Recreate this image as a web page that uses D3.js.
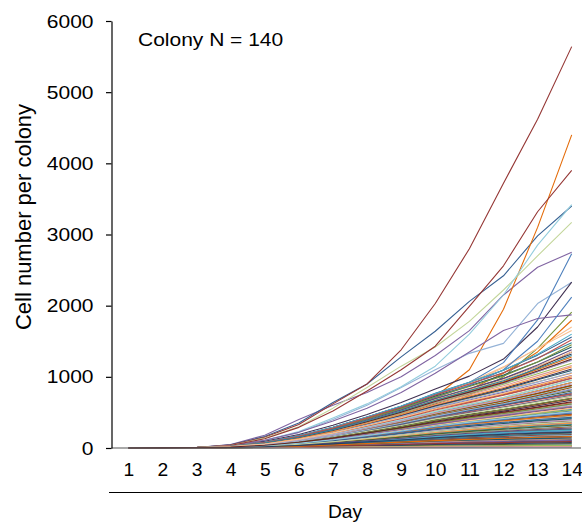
<!DOCTYPE html>
<html>
<head>
<meta charset="utf-8">
<script src="https://cdn.jsdelivr.net/npm/d3@7"></script>
<style>
  html, body { margin: 0; padding: 0; background: #fff; }
  svg { display: block; }
  text { font-family: "Liberation Sans", Arial, Helvetica, sans-serif; fill: #000; }
</style>
</head>
<body>
<svg id="chart" width="582" height="523"></svg>
<script>
// Days on the x axis
const days = [1,2,3,4,5,6,7,8,9,10,11,12,13,14];
const yTicks = [0,1000,2000,3000,4000,5000,6000];
const colonyCount = 140;

// Cell number per colony, one row per colony, one value per day
const colonies = [
  [1,2,5,22,65,133,232,348,476,635,762,908,1070,1240],
  [1,2,4,17,49,105,181,275,371,472,575,667,770,880],
  [1,2,4,12,34,70,119,181,245,310,375,425,492,560],
  [1,2,6,50,180,400,600,780,1000,1300,1650,2150,2540,2750],
  [1,2,3,11,29,59,101,152,210,270,319,356,390,420],
  [1,2,4,14,39,81,138,203,273,358,431,494,567,640],
  [1,2,6,45,160,350,640,900,1280,1640,2060,2420,2980,3400],
  [1,2,5,40,150,330,620,900,1380,2030,2800,3720,4620,5640],
  [1,2,4,19,58,120,200,300,420,560,740,1000,1400,1910],
  [1,2,5,20,57,119,203,312,420,553,650,748,856,980],
  [1,2,5,24,78,168,290,435,588,756,900,1058,1263,1480],
  [1,2,4,25,90,170,280,400,560,720,1100,1950,3100,4400],
  [1,2,5,30,110,220,400,600,850,1100,1330,1470,2030,2330],
  [1,2,4,16,44,92,160,239,322,419,500,575,653,720],
  [1,2,5,35,140,300,560,850,1150,1420,1780,2220,2700,3170],
  [1,2,3,8,21,42,72,109,147,189,225,253,278,300],
  [1,2,4,30,110,230,420,620,860,1150,1600,2150,2850,3420],
  [1,2,5,24,72,150,250,380,520,700,900,1130,1400,1700],
  [1,2,5,23,72,154,261,392,532,689,825,978,1145,1320],
  [1,2,4,19,62,133,232,348,476,621,763,920,1124,1350],
  [1,2,3,6,12,20,30,42,53,65,75,82,89,95],
  [1,2,4,26,96,190,320,470,640,830,1010,1250,1700,2330],
  [1,2,4,17,47,98,167,254,343,446,531,610,685,760],
  [1,2,3,7,17,34,55,81,108,135,158,177,195,210],
  [1,2,4,24,84,170,280,410,570,740,920,1200,1800,2730],
  [1,2,4,12,33,66,113,171,231,297,356,403,439,470],
  [1,2,3,6,13,24,38,54,70,86,100,110,121,130],
  [1,2,5,30,110,220,380,560,780,1050,1350,1650,1820,1870],
  [1,2,4,13,36,76,131,196,266,344,413,472,535,590],
  [1,2,5,20,60,126,218,326,448,581,700,817,931,1050],
  [1,2,3,10,23,48,81,122,165,213,253,288,317,340],
  [1,2,5,35,130,290,520,800,1100,1430,1990,2560,3320,3900],
  [1,2,3,5,9,14,20,28,34,41,45,48,51,55],
  [1,2,4,17,48,101,174,261,357,459,550,633,728,820],
  [1,2,3,8,20,39,65,97,130,165,194,219,241,260],
  [1,2,4,21,65,130,220,340,480,640,820,1050,1350,1795],
  [1,2,4,14,39,80,135,203,273,351,419,483,546,610],
  [1,2,5,22,65,137,235,355,483,628,750,874,1017,1160],
  [1,2,3,5,8,11,16,20,25,30,33,36,37,40],
  [1,2,4,13,34,69,116,174,235,300,356,403,455,500],
  [1,2,3,7,16,29,48,70,92,116,135,152,167,180],
  [1,2,5,26,78,160,265,395,540,720,920,1140,1400,1650],
  [1,2,4,18,52,109,189,284,385,500,600,690,803,920],
  [1,2,3,11,26,53,90,136,185,238,281,319,353,380],
  [1,2,3,6,12,21,33,48,63,78,90,101,111,120],
  [1,2,4,16,43,88,151,226,305,394,473,541,615,690],
  [1,2,5,24,75,161,276,413,560,729,875,1024,1209,1420],
  [1,2,3,8,21,42,71,107,146,186,220,248,276,300],
  [1,2,4,22,75,155,260,390,540,710,880,1100,1500,2120],
  [1,2,4,16,46,95,162,247,333,432,513,598,679,760],
  [1,2,2,4,5,8,12,15,17,19,21,22,24,25],
  [1,2,5,20,60,126,215,322,437,567,675,782,899,1020],
  [1,2,4,12,31,63,107,162,220,284,338,385,419,450],
  [1,2,4,14,40,84,145,218,294,381,456,523,601,680],
  [1,2,5,25,81,171,290,435,588,770,925,1093,1305,1560],
  [1,2,3,7,18,36,61,90,119,151,178,200,216,230],
  [1,2,4,17,49,104,177,268,364,473,569,656,760,870],
  [1,2,3,6,14,27,42,61,80,100,116,130,141,150],
  [1,2,4,13,35,73,125,189,255,328,390,443,492,540],
  [1,2,5,22,68,146,249,377,511,662,794,932,1102,1280],
  [1,2,3,5,9,15,23,32,41,49,55,60,65,70],
  [1,2,3,11,27,56,96,145,196,251,298,337,370,400],
  [1,2,4,18,55,115,197,297,403,520,619,713,835,960],
  [1,2,4,14,38,78,133,200,270,348,416,477,548,620],
  [1,2,3,10,22,43,74,112,150,192,228,258,285,310],
  [1,2,5,23,72,151,258,389,525,682,819,960,1145,1350],
  [1,2,3,6,12,21,32,45,57,70,80,89,97,105],
  [1,2,4,13,36,74,128,193,260,336,400,458,516,570],
  [1,2,4,17,47,98,168,255,346,448,538,621,712,800],
  [1,2,3,8,20,39,67,100,134,171,203,230,253,270],
  [1,2,5,20,61,129,220,334,455,591,706,822,958,1090],
  [1,2,4,12,31,64,110,167,225,290,345,393,439,480],
  [1,2,2,4,5,7,9,10,11,12,13,14,14,15],
  [1,2,4,14,39,80,136,206,279,359,429,495,567,640],
  [1,2,5,22,66,140,239,363,490,637,765,897,1043,1190],
  [1,2,3,10,25,50,86,129,175,224,265,301,334,360],
  [1,2,3,6,10,18,28,38,48,58,66,72,79,85],
  [1,2,4,18,52,109,187,283,382,494,594,690,805,920],
  [1,2,4,13,34,70,119,180,244,313,373,426,474,520],
  [1,2,3,7,16,31,51,74,98,124,146,164,179,190],
  [1,2,5,24,75,161,273,409,553,716,863,1012,1209,1450],
  [1,2,4,16,44,92,158,238,322,416,498,575,655,740],
  [1,2,3,10,23,46,78,117,158,203,240,274,305,330],
  [1,2,5,19,57,120,206,312,423,547,653,759,877,1000],
  [1,2,2,4,7,10,15,19,24,28,33,36,41,45],
  [1,2,4,13,36,76,129,196,265,340,406,466,528,590],
  [1,2,3,8,21,41,68,103,139,177,209,238,262,280],
  [1,2,5,22,68,143,244,368,498,648,778,914,1070,1230],
  [1,2,4,17,48,102,174,264,358,463,556,644,749,860],
  [1,2,3,12,30,62,104,158,213,274,325,370,412,440],
  [1,2,3,7,14,28,45,65,87,109,128,143,155,165],
  [1,2,4,16,42,87,148,223,302,390,466,537,617,700],
  [1,2,3,5,8,13,19,26,32,39,45,51,56,60],
  [1,2,5,20,62,132,225,339,462,599,718,837,970,1110],
  [1,2,3,11,27,57,99,148,200,257,304,345,381,410],
  [1,2,4,17,49,105,180,273,370,478,573,664,768,880],
  [1,2,3,8,18,36,62,93,123,157,185,209,227,240],
  [1,2,5,19,56,118,202,305,413,535,638,742,859,980],
  [1,2,4,13,34,71,122,184,249,320,380,434,487,530],
  [1,2,3,6,12,21,33,46,60,74,85,94,103,110],
  [1,2,5,25,81,171,290,435,591,767,925,1093,1316,1600],
  [1,2,3,10,23,49,83,125,169,217,258,293,324,350],
  [1,2,4,16,46,97,165,249,337,437,525,606,693,780],
  [1,2,2,4,7,8,13,16,20,23,25,26,29,30],
  [1,2,4,14,38,78,135,203,274,354,423,485,552,620],
  [1,2,5,23,73,154,262,394,535,695,835,978,1166,1380],
  [1,2,3,7,16,32,54,78,104,131,154,174,189,200],
  [1,2,4,12,31,64,109,164,221,284,338,383,426,460],
  [1,2,5,20,60,126,216,326,442,571,685,797,926,1060],
  [1,2,3,6,13,24,38,54,70,86,100,110,121,130],
  [1,2,4,16,43,91,155,235,316,409,489,564,645,730],
  [1,2,3,11,26,55,93,141,190,244,289,328,363,390],
  [1,2,4,18,53,112,193,291,395,510,610,706,826,950],
  [1,2,4,13,35,71,123,186,251,323,385,439,500,560],
  [1,2,3,5,9,15,23,32,41,50,58,63,70,75],
  [1,2,5,22,68,144,247,371,504,653,785,920,1081,1250],
  [1,2,3,10,22,45,75,113,153,196,233,265,295,320],
  [1,2,4,14,40,84,144,216,293,377,450,518,593,670],
  [1,2,3,6,13,25,41,58,76,95,109,121,132,140],
  [1,2,4,17,48,101,173,261,353,456,548,635,738,850],
  [1,2,4,12,33,66,112,170,230,294,350,399,446,490],
  [1,2,5,24,78,165,281,423,574,745,898,1056,1257,1520],
  [1,2,2,4,7,10,15,17,21,26,29,31,33,35],
  [1,2,4,13,36,74,128,193,260,335,400,458,519,580],
  [1,2,3,8,18,38,64,96,127,162,191,216,234,250],
  [1,2,5,20,64,134,229,347,470,609,729,851,990,1140],
  [1,2,3,12,29,60,102,155,209,269,318,361,400,430],
  [1,2,3,6,10,18,28,39,49,61,69,76,83,90],
  [1,2,4,14,39,81,142,218,298,389,468,541,621,700],
  [1,2,3,8,20,41,68,102,137,176,208,236,261,280],
  [1,2,5,23,70,150,255,383,518,672,806,945,1118,1300],
  [1,2,3,6,14,27,44,62,83,104,121,136,150,160],
  [1,2,4,17,47,99,170,257,347,448,538,621,720,830],
  [1,2,2,4,5,7,10,13,15,16,18,18,19,20],
  [1,2,3,11,25,52,88,133,181,231,274,311,343,370],
  [1,2,4,18,52,108,184,278,378,489,585,679,789,900],
  [1,2,4,12,33,69,116,175,238,306,364,415,465,510],
  [1,2,5,19,57,122,209,315,427,552,660,768,889,1010],
  [1,2,3,7,17,35,58,86,113,144,170,192,209,220],
  [1,2,4,14,39,81,139,210,284,366,438,504,574,650]
];

// Office-style series colours: accents, darker shades, lighter tints, darkest shades
const palette = [
  "#4F81BD","#C0504D","#9BBB59","#8064A2","#4BACC6","#F79646",
  "#376092","#953735","#77933C","#604A7B","#31859C","#E46C0A",
  "#95B3D7","#D99694","#C3D69B","#B3A2C7","#93CDDD","#FAC090",
  "#254061","#632523","#4F6228","#403152","#215968","#984807"
];

const svg = d3.select("#chart");
const font = 17.5;
const stretch = 1.2;
const dayStretch = 1.1;

const x = d3.scaleLinear().domain([1, 14]).range([128.3, 571.7]);
const y = d3.scaleLinear().domain([0, 6000]).range([448, 21]);

// Colony growth curves
const line = d3.line()
  .x((d, i) => x(days[i]))
  .y(d => y(d));

svg.append("g")
  .attr("fill", "none")
  .attr("stroke-width", 1.1)
  .attr("stroke-linejoin", "round")
  .selectAll("path")
  .data(colonies)
  .join("path")
  .attr("stroke", (d, i) => palette[i % palette.length])
  .attr("d", line);

// Baseline along zero
svg.append("line")
  .attr("x1", 111.5).attr("x2", 581)
  .attr("y1", y(0)).attr("y2", y(0))
  .attr("stroke", "#555").attr("stroke-width", 1.2);

// Y axis
const yAxis = svg.append("g")
  .attr("transform", "translate(111.5,0)")
  .call(d3.axisLeft(y).tickValues(yTicks).tickSize(5.5).tickSizeOuter(0).tickFormat(d3.format("d")));
yAxis.select(".domain").attr("stroke", "#000").attr("stroke-width", 1.2);
yAxis.selectAll(".tick line").attr("stroke", "#000").attr("stroke-width", 1.2);
yAxis.selectAll(".tick text")
  .attr("x", -18 / stretch)
  .attr("dy", "0.35em")
  .attr("transform", `scale(${stretch},1)`)
  .style("font-size", font + "px")
  .style("font-family", "'Liberation Sans', Arial, sans-serif")
  .attr("fill", "#000");

// X axis day labels
const xAxis = svg.append("g")
  .attr("transform", `translate(0,${y(0)})`)
  .call(d3.axisBottom(x).tickValues(days).tickSize(0).tickFormat(d3.format("d")));
xAxis.select(".domain").remove();
xAxis.selectAll(".tick text")
  .attr("y", 28)
  .attr("dy", 0)
  .attr("transform", `scale(${dayStretch},1)`)
  .attr("x", 0)
  .style("font-size", font + "px")
  .style("font-family", "'Liberation Sans', Arial, sans-serif")
  .attr("fill", "#000");

// Rule above the axis title
svg.append("line")
  .attr("x1", 109).attr("x2", 582)
  .attr("y1", 492.5).attr("y2", 492.5)
  .attr("stroke", "#000").attr("stroke-width", 1.2);

// Axis titles
svg.append("text")
  .attr("transform", `translate(345,518) scale(${dayStretch},1)`)
  .attr("text-anchor", "middle")
  .style("font-size", font + "px")
  .text("Day");

svg.append("text")
  .attr("transform", "translate(31,217) rotate(-90)")
  .attr("text-anchor", "middle")
  .style("font-size", "22px")
  .text("Cell number per colony");

// Colony count note
svg.append("text")
  .attr("transform", `translate(138,45.5) scale(${stretch},1)`)
  .style("font-size", font + "px")
  .text(`Colony N = ${colonyCount}`);
</script>
</body>
</html>
